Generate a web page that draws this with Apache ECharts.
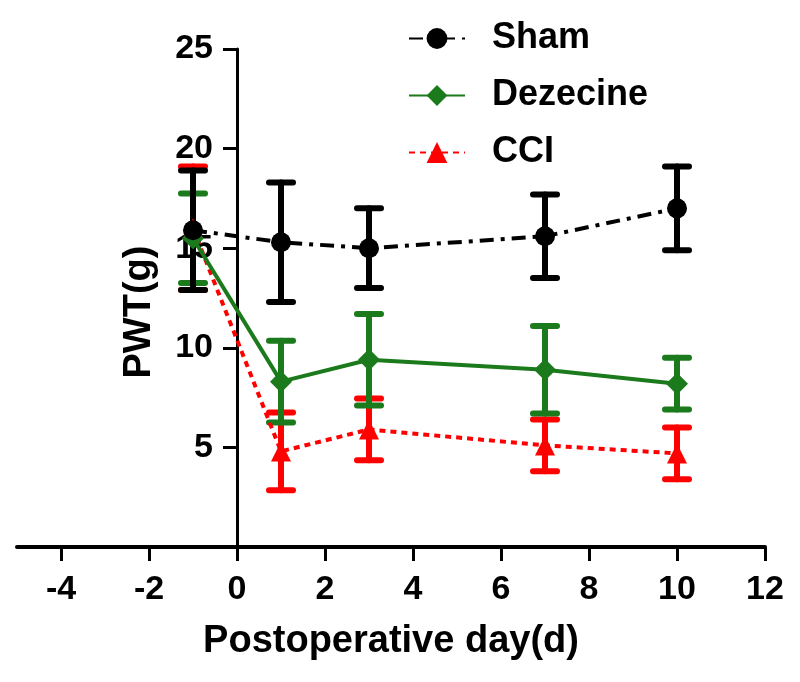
<!DOCTYPE html>
<html>
<head>
<meta charset="utf-8">
<script src="https://cdn.jsdelivr.net/npm/echarts@6/dist/echarts.min.js"></script>
<style>
html,body{margin:0;padding:0;background:#fff;}
#chart{width:800px;height:682px;}
</style>
</head>
<body>
<div id="chart"></div>
<script>
var days = [-1, 1, 3, 7, 10];
var shamMean = [15.9, 15.3, 15.0, 15.6, 17.0];
var shamErr  = [3.0, 3.0, 2.0, 2.1, 2.1];
var dezMean  = [15.5, 8.3, 9.4, 8.9, 8.2];
var dezErr   = [2.25, 2.05, 2.3, 2.2, 1.3];
var cciMean  = [16.0, 4.8, 5.9, 5.1, 4.7];
var cciErr   = [3.1, 1.95, 1.55, 1.3, 1.3];
var xTicks = [-4, -2, 0, 2, 4, 6, 8, 10, 12];
var yTicks = [5, 10, 15, 20, 25];

var FONT = "'Liberation Sans', Arial, sans-serif";
var BLACK = '#000000', GREEN = '#1b7a1b', RED = '#ff0000';
var GRID_L = 17, GRID_R = 35, X_MIN = -5, X_MAX = 12;
var Y_OFFSET = -((0 - X_MIN) / (X_MAX - X_MIN)) * (800 - GRID_L - GRID_R);

function pts(mean){ return days.map(function(d,i){ return [d, mean[i]]; }); }
function bars(mean, err){ return days.map(function(d,i){ return [d, mean[i]-err[i], mean[i]+err[i]]; }); }
function errRender(color){
  return function(params, api){
    var x = api.value(0);
    var lo = api.coord([x, api.value(1)]);
    var hi = api.coord([x, api.value(2)]);
    var w = 12;
    var st = {stroke: color, lineWidth: 6, lineCap: 'round'};
    return {type:'group', children:[
      {type:'line', shape:{x1:lo[0], y1:lo[1], x2:hi[0], y2:hi[1]}, style:st},
      {type:'line', shape:{x1:hi[0]-w, y1:hi[1], x2:hi[0]+w, y2:hi[1]}, style:st},
      {type:'line', shape:{x1:lo[0]-w, y1:lo[1], x2:lo[0]+w, y2:lo[1]}, style:st}
    ]};
  };
}

var chart = echarts.init(document.getElementById('chart'));
chart.setOption({
  backgroundColor: '#fff',
  animation: false,
  textStyle: {fontFamily: FONT},
  grid: {left: GRID_L, right: GRID_R, top: 49, bottom: 135, containLabel: false, outerBoundsMode: 'none'},
  legend: {
    orient: 'vertical', left: 403, top: 5,
    itemWidth: 56, itemHeight: 26, itemGap: 0,
    data: ['Sham', 'Dezecine', 'CCI'],
    textStyle: {fontFamily: FONT, fontSize: 36, fontWeight: 'bold', color: '#000', lineHeight: 57, padding: [0,0,0,22]}
  },
  xAxis: {
    type: 'value', min: X_MIN, max: X_MAX,
    splitLine: {show: false},
    axisLine: {onZero: true, lineStyle: {color: '#000', width: 4}},
    axisTick: {customValues: xTicks, length: 14, lineStyle: {color: '#000', width: 3}},
    axisLabel: {customValues: xTicks, margin: 26, fontSize: 34, fontWeight: 'bold', color: '#000', fontFamily: FONT},
    name: 'Postoperative day(d)', nameLocation: 'middle', nameGap: 76,
    nameTextStyle: {fontSize: 38, fontWeight: 'bold', color: '#000', fontFamily: FONT}
  },
  yAxis: {
    type: 'value', min: 0, max: 25, position: 'left', offset: Y_OFFSET,
    splitLine: {show: false},
    axisLine: {onZero: false, lineStyle: {color: '#000', width: 3}},
    axisTick: {customValues: yTicks, length: 14, lineStyle: {color: '#000', width: 3}},
    axisLabel: {customValues: yTicks, margin: 24, fontSize: 34, fontWeight: 'bold', color: '#000', fontFamily: FONT},
    name: 'PWT(g)', nameLocation: 'middle', nameGap: 78, nameRotate: 90,
    nameTextStyle: {fontSize: 38, fontWeight: 'bold', color: '#000', fontFamily: FONT, padding: [0, 28, 0, 0]}
  },
  series: [
    {type:'custom', name:'cciErr', renderItem: errRender(RED), data: bars(cciMean, cciErr), encode:{x:0, y:[1,2]}, z:2, silent:true},
    {type:'custom', name:'dezErr', renderItem: errRender(GREEN), data: bars(dezMean, dezErr), encode:{x:0, y:[1,2]}, z:3, silent:true},
    {type:'custom', name:'shamErr', renderItem: errRender(BLACK), data: bars(shamMean, shamErr), encode:{x:0, y:[1,2]}, z:4, silent:true},
    {type:'line', name:'CCI', data: pts(cciMean), symbol:'triangle', symbolSize: 20,
     itemStyle:{color: RED}, lineStyle:{color: RED, width: 4, type: [6,5]}, z:5},
    {type:'line', name:'Dezecine', data: pts(dezMean), symbol:'diamond', symbolSize: 22,
     itemStyle:{color: GREEN}, lineStyle:{color: GREEN, width: 4, type: 'solid'}, z:6},
    {type:'line', name:'Sham', data: pts(shamMean), symbol:'circle', symbolSize: 20,
     itemStyle:{color: BLACK}, lineStyle:{color: BLACK, width: 4, type: [14,7,4,7]}, z:7}
  ]
});
</script>
</body>
</html>
